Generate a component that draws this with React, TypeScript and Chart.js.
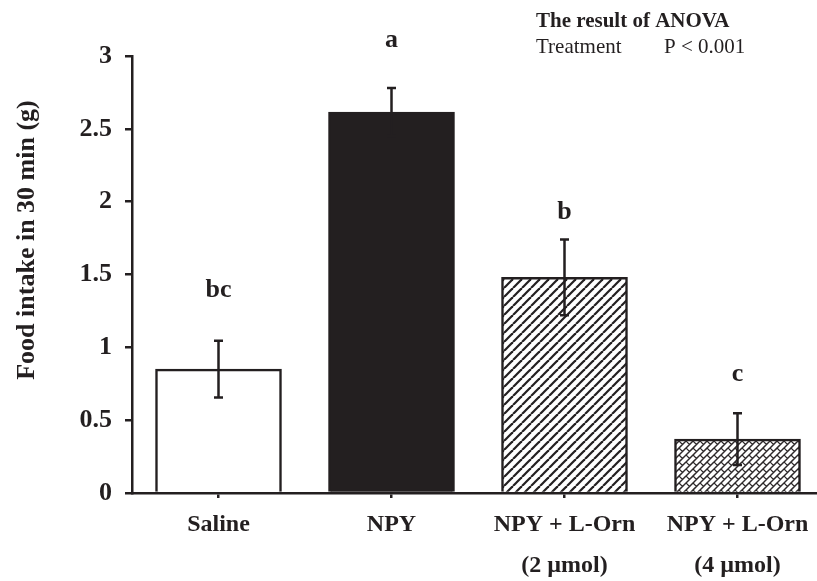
import React, { useEffect, useRef } from 'react';
import { Chart, registerables } from 'chart.js';

Chart.register(...registerables);

// ---- data ----
const categories: string[][] = [
  ['Saline'],
  ['NPY'],
  ['NPY + L-Orn', '(2 \u00b5mol)'],
  ['NPY + L-Orn', '(4 \u00b5mol)'],
];
const means: number[] = [0.85, 2.615, 1.48, 0.37];
const errors: number[] = [0.195, 0.165, 0.26, 0.178];
const letters: string[] = ['bc', 'a', 'b', 'c'];
const letterLevels: number[] = [1.394, 3.11, 1.93, 0.815];
const yTickValues: number[] = [0, 0.5, 1, 1.5, 2, 2.5, 3];
const yTitle = 'Food intake in 30 min (g)';
const anovaTitle = 'The result of ANOVA';
const anovaFactor = 'Treatment';
const anovaP = 'P < 0.001';

const INK = '#231f20';
const SERIF = '"Liberation Serif", "Times New Roman", serif';

function makeHatch(): CanvasPattern | string {
  const c = document.createElement('canvas');
  const s = 9;
  c.width = s; c.height = s;
  const g = c.getContext('2d');
  if (!g) return '#ffffff';
  g.fillStyle = '#ffffff';
  g.fillRect(0, 0, s, s);
  g.strokeStyle = INK;
  g.lineWidth = 2.2;
  for (const off of [-s, 0, s]) {
    g.beginPath();
    g.moveTo(off, s);
    g.lineTo(off + s, 0);
    g.stroke();
  }
  const p = g.createPattern(c, 'repeat');
  return p || '#ffffff';
}

function makeBrick(): CanvasPattern | string {
  const c = document.createElement('canvas');
  const s = 14;
  const h = s / 2;
  const j = s / 4;
  c.width = s; c.height = s;
  const g = c.getContext('2d');
  if (!g) return '#ffffff';
  g.fillStyle = '#ffffff';
  g.fillRect(0, 0, s, s);
  g.strokeStyle = '#2e2a2b';
  g.lineWidth = 1.2;
  for (const dx of [-s, 0, s]) {
    for (const dy of [-s, 0, s]) {
      g.beginPath();
      // "/" mortar lines
      for (const cc of [0, h, s, s + h]) {
        g.moveTo(cc + dx, dy);
        g.lineTo(cc - s + dx, s + dy);
      }
      // "\" staggered joints
      const starts: number[][] = [[0, 0], [h, h], [h, 0], [0, h]];
      for (const [sx, sy] of starts) {
        g.moveTo(sx + dx, sy + dy);
        g.lineTo(sx + j + dx, sy + j + dy);
      }
      g.stroke();
    }
  }
  const p = g.createPattern(c, 'repeat');
  return p || '#ffffff';
}

const overlayPlugin = {
  id: 'overlay',
  afterDatasetsDraw(chart: any) {
    const ctx: CanvasRenderingContext2D = chart.ctx;
    const meta = chart.getDatasetMeta(0);
    const ys = chart.scales.y;
    ctx.save();
    ctx.strokeStyle = INK;
    ctx.fillStyle = INK;
    ctx.lineWidth = 2.5;
    meta.data.forEach((bar: any, i: number) => {
      const x = bar.x;
      const top = ys.getPixelForValue(means[i] + errors[i]);
      const bot = ys.getPixelForValue(means[i] - errors[i]);
      ctx.beginPath();
      ctx.moveTo(x, top);
      ctx.lineTo(x, bot);
      ctx.moveTo(x - 4.5, top);
      ctx.lineTo(x + 4.5, top);
      ctx.moveTo(x - 4.5, bot);
      ctx.lineTo(x + 4.5, bot);
      ctx.stroke();
      ctx.font = `bold 26px ${SERIF}`;
      ctx.textAlign = 'center';
      ctx.textBaseline = 'middle';
      ctx.fillText(letters[i], x, ys.getPixelForValue(letterLevels[i]));
    });

    // y-axis title
    ctx.save();
    ctx.translate(27, 240);
    ctx.rotate(-Math.PI / 2);
    ctx.font = `bold 26px ${SERIF}`;
    ctx.textAlign = 'center';
    ctx.textBaseline = 'middle';
    ctx.fillText(yTitle, 0, 0);
    ctx.restore();

    // ANOVA note
    ctx.textAlign = 'left';
    ctx.textBaseline = 'alphabetic';
    ctx.font = `bold 21px ${SERIF}`;
    ctx.fillText(anovaTitle, 536, 27);
    ctx.font = `21px ${SERIF}`;
    ctx.fillText(anovaFactor, 536, 53);
    ctx.fillText(anovaP, 664, 53);
    ctx.restore();
  },
};

export default function App() {
  const ref = useRef<HTMLCanvasElement | null>(null);

  useEffect(() => {
    const canvas = ref.current;
    if (!canvas) return;
    const fills = ['#ffffff', INK, makeHatch(), makeBrick()];
    const catWidth = 173;
    const plotLeft = 132;
    const plotRight = 817;
    const xMax = (plotRight - plotLeft) / catWidth - 0.5;

    const chart = new Chart(canvas, {
      type: 'bar',
      data: {
        datasets: [
          {
            data: means.map((v, i) => ({ x: i, y: v })),
            backgroundColor: fills as any,
            borderColor: INK,
            borderWidth: 2.5,
            barThickness: 126,
          } as any,
        ],
      },
      options: {
        responsive: false,
        animation: false,
        devicePixelRatio: 1,
        layout: { padding: { left: 0, right: 0, top: 56, bottom: 0 } },
        plugins: {
          legend: { display: false },
          tooltip: { enabled: false },
          title: { display: false },
        },
        scales: {
          x: {
            type: 'linear',
            min: -0.5,
            max: xMax,
            offset: false,
            afterBuildTicks: (axis: any) => {
              axis.ticks = [0, 1, 2, 3].map((v) => ({ value: v }));
            },
            afterFit: (scale: any) => {
              scale.height = 88;
            },
            ticks: {
              stepSize: 1,
              includeBounds: false,
              autoSkip: false,
              maxRotation: 0,
              minRotation: 0,
              color: INK,
              padding: 6,
              font: { family: SERIF, size: 24, weight: 'bold', lineHeight: 1.72 },
              callback: (value: any) => categories[Math.round(Number(value))] || '',
            },
            grid: {
              offset: false,
              drawOnChartArea: false,
              drawTicks: true,
              tickLength: 5,
              color: INK,
              lineWidth: 2.5,
            },
            border: { display: true, color: INK, width: 2.5 },
          } as any,
          y: {
            min: 0,
            max: 3,
            afterBuildTicks: (axis: any) => {
              axis.ticks = yTickValues.map((v) => ({ value: v }));
            },
            afterFit: (scale: any) => {
              scale.width = 132;
            },
            ticks: {
              stepSize: 0.5,
              color: INK,
              padding: 13,
              font: { family: SERIF, size: 26, weight: 'bold' },
              callback: (value: any) => String(value),
            },
            grid: {
              drawOnChartArea: false,
              drawTicks: true,
              tickLength: 7,
              color: INK,
              lineWidth: 2.5,
            },
            border: { display: true, color: INK, width: 2.5 },
          } as any,
        },
      },
      plugins: [overlayPlugin],
    });
    return () => chart.destroy();
  }, []);

  return (
    <div style={{ position: 'fixed', left: 0, top: 0, width: 817, height: 581, background: '#ffffff' }}>
      <canvas ref={ref} width={817} height={581} style={{ display: 'block', width: 817, height: 581 }} />
    </div>
  );
}
